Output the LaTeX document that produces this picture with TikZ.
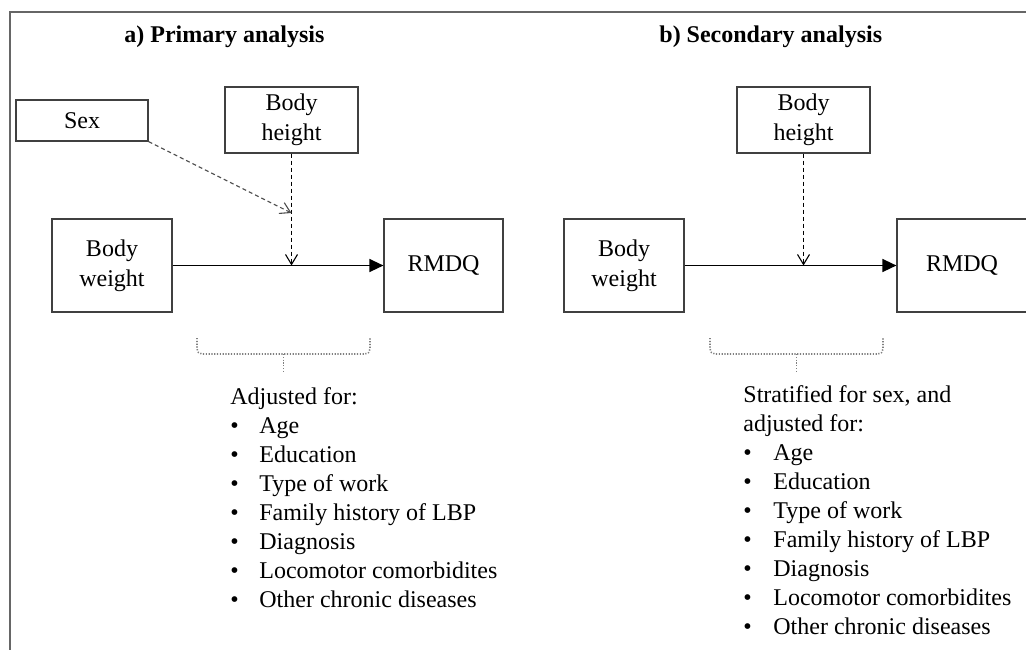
\documentclass[tikz,border=0pt]{standalone}
\usepackage{fontspec}
\setmainfont{Liberation Serif}
\usetikzlibrary{arrows.meta}
\begin{document}
\begin{tikzpicture}[x=0.5pt,y=-0.5pt,
  box/.style={draw=black!75, line width=0.6pt, inner sep=0pt, align=center, font=\fontsize{12}{15}\selectfont, text=black},
  txt/.style={anchor=base west, inner sep=0pt, font=\fontsize{12}{14.5}\selectfont},
  ttl/.style={anchor=base west, inner sep=0pt, font=\fontsize{12}{14.5}\selectfont\bfseries},
  mainarrow/.style={line width=0.7pt, -{Triangle[length=7pt,width=6.5pt]}},
  modarrow/.style={line width=0.55pt, dash pattern=on 2pt off 1.5pt, -{Straight Barb[length=5pt,width=6pt,line width=0.55pt]}},
  bracepath/.style={draw=black!50, line width=0.8pt, dash pattern=on 0.6pt off 0.8pt, rounded corners=2.5pt},
]
\useasboundingbox (0,0) rectangle (1026,649);
\clip (0,0) rectangle (1026,649);
% frame
\draw[line width=1pt, black!60] (10,660) -- (10,12) -- (1030,12);

% titles
\node[ttl] (ta) at (124,42) {a) Primary analysis};
\node[ttl] (tb) at (659,42) {b) Secondary analysis};

% ---- panel a
\node[box, minimum width=66pt, minimum height=20.5pt] (sexa) at (82,120.5) {Sex};
\node[box, minimum width=66.5pt, minimum height=33pt] (ha) at (291.5,120) {Body\\height};
\node[box, minimum width=60pt, minimum height=46.5pt] (wa) at (112,265.5) {Body\\weight};
\node[box, minimum width=59.5pt, minimum height=46.5pt] (ra) at (443.5,265.5) {RMDQ};
\draw[mainarrow] (wa.east) -- (ra.west);
\coordinate (ma) at (ha.south |- wa.east);
\coordinate (sa) at (291.5,213);
\draw[modarrow] (ha.south) -- (ma);
\draw[modarrow, draw=black!70] (sexa.south east) -- (sa);
\draw[bracepath] (197,338) -- (197,354) -- (283.5,354) -- (370,354) -- (370,338);
\draw[bracepath, rounded corners=0pt] (283.5,354) -- (283.5,373);

\node[txt] (adja) at (230,404) {Adjusted for:};
\foreach \t [count=\i] in {Age,Education,Type of work,Family history of LBP,Diagnosis,Locomotor comorbidites,Other chronic diseases} {
  \node[txt] (bula\i) at (230,404+29*\i) {•};
  \node[txt] (itema\i) at (259,404+29*\i) {\t};
}

% ---- panel b
\node[box, minimum width=66.5pt, minimum height=33pt] (hb) at (803.5,120) {Body\\height};
\node[box, minimum width=60pt, minimum height=46.5pt] (wb) at (624,265.5) {Body\\weight};
\node[box, minimum width=65pt, minimum height=46.5pt] (rb) at (962,265.5) {RMDQ};
\draw[mainarrow] (wb.east) -- (rb.west);
\coordinate (mb) at (hb.south |- wb.east);
\draw[modarrow] (hb.south) -- (mb);
\draw[bracepath] (710,338) -- (710,354) -- (796.5,354) -- (883,354) -- (883,338);
\draw[bracepath, rounded corners=0pt] (796.5,354) -- (796.5,373);

\node[txt] (strb) at (743,402) {Stratified for sex, and};
\node[txt] (adjb) at (743,431) {adjusted for:};
\foreach \t [count=\i] in {Age,Education,Type of work,Family history of LBP,Diagnosis,Locomotor comorbidites,Other chronic diseases} {
  \node[txt] (bulb\i) at (743,431+29*\i) {•};
  \node[txt] (itemb\i) at (773,431+29*\i) {\t};
}
\end{tikzpicture}
\end{document}
